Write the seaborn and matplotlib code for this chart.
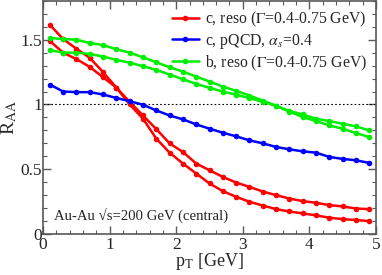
import numpy as np
import pandas as pd
import matplotlib
matplotlib.use('Agg')
import matplotlib.pyplot as plt
from matplotlib.ticker import MultipleLocator
import seaborn as sns

# pT grid points (GeV)
pt = [0.1, 0.3, 0.5, 0.7, 0.9, 1.1, 1.3, 1.5, 1.7, 1.9, 2.1, 2.3, 2.5,
      2.7, 2.9, 3.1, 3.3, 3.5, 3.7, 3.9, 4.1, 4.3, 4.5, 4.7, 4.9]

# charm, resonance model, two widths
c_reso_a = [1.615, 1.505, 1.43, 1.36, 1.25, 1.13, 1.00, 0.89, 0.736, 0.628, 0.544,
            0.467, 0.39, 0.331, 0.287, 0.249, 0.22, 0.192, 0.174, 0.159, 0.144,
            0.126, 0.115, 0.108, 0.10]
c_reso_b = [1.49, 1.40, 1.35, 1.29, 1.21, 1.13, 1.02, 0.915, 0.81, 0.70, 0.633,
            0.544, 0.492, 0.441, 0.397, 0.364, 0.328, 0.30, 0.274, 0.254, 0.241,
            0.223, 0.213, 0.197, 0.192]
# charm, pQCD
c_pqcd = [1.154, 1.10, 1.095, 1.095, 1.077, 1.05, 1.025, 0.998, 0.954, 0.915, 0.885,
          0.846, 0.813, 0.782, 0.754, 0.723, 0.70, 0.672, 0.654, 0.638, 0.628,
          0.595, 0.58, 0.569, 0.549]
# bottom, resonance model, two widths
b_reso_a = [1.513, 1.505, 1.50, 1.474, 1.459, 1.426, 1.40, 1.364, 1.326, 1.287, 1.254,
            1.215, 1.177, 1.138, 1.105, 1.069, 1.03, 0.99, 0.945, 0.903, 0.872,
            0.838, 0.813, 0.779, 0.749]
b_reso_b = [1.42, 1.40, 1.40, 1.39, 1.37, 1.344, 1.323, 1.295, 1.267, 1.231, 1.195,
            1.159, 1.128, 1.10, 1.075, 1.05, 1.02, 0.99, 0.95, 0.923, 0.89,
            0.872, 0.851, 0.831, 0.80]

labels = ['c, reso ($\\Gamma$=0.4-0.75 GeV)',
          'c, pQCD, $\\alpha_s$=0.4',
          'b, reso ($\\Gamma$=0.4-0.75 GeV)']

sns.set_style('ticks')
plt.rcParams['font.family'] = ['Liberation Serif', 'DejaVu Serif']
plt.rcParams['mathtext.fontset'] = 'stix'

fig = plt.figure(figsize=(3.82, 2.75), dpi=100)
ax = fig.add_axes([0.113, 0.149, 0.871, 0.848])

ax.axhline(1.0, color='black', lw=0.8, ls=(0, (1.5, 2)), zorder=1)

curves = [(c_reso_a, '#ff0000', labels[0]), (c_reso_b, '#ff0000', '_nolegend_'),
          (c_pqcd, '#0000ff', labels[1]),
          (b_reso_a, '#00ee00', labels[2]), (b_reso_b, '#00ee00', '_nolegend_')]
for vals, col, lab in curves:
    sns.lineplot(x=pt, y=vals, color=col, lw=1.8, marker='o', markersize=4,
                 markeredgewidth=0, label=lab, ax=ax)

ax.set_xlim(0, 5)
ax.set_ylim(0, 1.8)
ax.set_xticks([0, 1, 2, 3, 4, 5])
ax.set_yticks([0, 0.5, 1, 1.5])
ax.set_yticklabels(['0', '0.5', '1', '1.5'])
ax.xaxis.set_minor_locator(MultipleLocator(0.2))
ax.yaxis.set_minor_locator(MultipleLocator(0.1))
ax.tick_params(which='both', direction='in', top=True, right=True, color='0.35',
               labelsize=12.5)
ax.tick_params(axis='x', pad=2)
ax.tick_params(axis='y', pad=1)
ax.tick_params(which='major', length=6, width=1)
ax.tick_params(which='minor', length=3, width=0.8)
for s in ax.spines.values():
    s.set_color('0.35')
    s.set_linewidth(1.2)

ax.set_xlabel('p$_\\mathrm{T}$ [GeV]', fontsize=13, labelpad=-1)
ax.set_ylabel('R$_\\mathrm{AA}$', fontsize=14, labelpad=1)

ax.text(0.17, 0.14, 'Au-Au \u221as=200 GeV (central)', fontsize=10.6, va='center')

ax.legend(loc='upper right', frameon=False, fontsize=11.3, handlelength=1.7,
          handletextpad=0.4, labelspacing=0.18, borderaxespad=0.15,
          bbox_to_anchor=(1.0, 1.0))

fig.savefig('out.png', dpi=100)
